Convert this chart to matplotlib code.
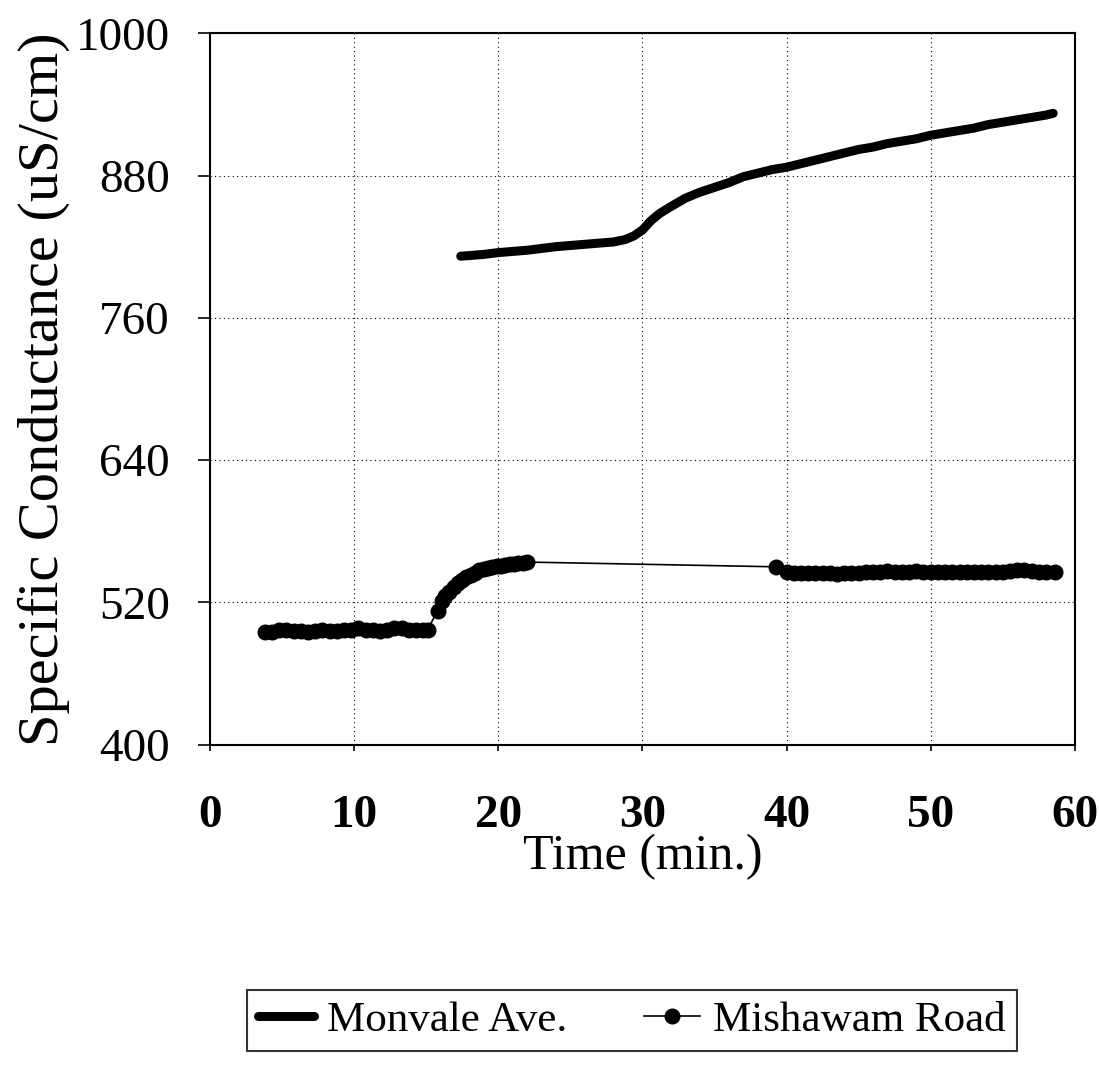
# Specific conductance at two stations

import matplotlib
matplotlib.use("Agg")
import matplotlib.pyplot as plt

# -----------------------------
# DATA
# -----------------------------

monvale_time = [17.4, 18.0, 19.0, 20.0, 21.0, 22.0, 23.0, 24.0, 25.0, 26.0,
                27.0, 28.0, 28.8, 29.4, 30.0, 30.6, 31.2, 32.0, 33.0, 34.0,
                35.0, 36.0, 37.0, 38.0, 39.0, 40.0, 41.0, 42.0, 43.0, 44.0,
                45.0, 46.0, 47.0, 48.0, 49.0, 50.0, 51.0, 52.0, 53.0, 54.0,
                55.0, 56.0, 57.0, 58.0, 58.5]
monvale_sc = [812, 812.5, 813.5, 815, 816, 817, 818.5, 820, 821, 822,
              823, 824, 826, 829, 834, 842, 848, 854, 861, 866,
              870, 874, 879, 882, 885, 887, 890, 893, 896, 899,
              902, 904, 907, 909, 911, 914, 916, 918, 920, 923,
              925, 927, 929, 931, 932.5]

mishawam_time = [3.8, 4.3, 4.8, 5.3, 5.8, 6.3, 6.8, 7.3, 7.8, 8.3,
                 8.8, 9.3, 9.8, 10.3, 10.8, 11.3, 11.8, 12.3, 12.8, 13.3,
                 13.8, 14.3, 14.8, 15.1,
                 15.8, 16.1, 16.3, 16.6, 16.9, 17.2, 17.5, 17.8, 18.1, 18.4,
                 18.7, 19.0, 19.3, 19.6, 19.9, 20.2, 20.5, 20.8, 21.1, 21.4,
                 21.7, 22.0,
                 39.3,
                 40.0, 40.5, 41.0, 41.5, 42.0, 42.5, 43.0, 43.5, 44.0, 44.5,
                 45.0, 45.5, 46.0, 46.5, 47.0, 47.5, 48.0, 48.5, 49.0, 49.5,
                 50.0, 50.5, 51.0, 51.5, 52.0, 52.5, 53.0, 53.5, 54.0, 54.5,
                 55.0, 55.5, 56.0, 56.5, 57.0, 57.5, 58.0, 58.6]
mishawam_sc = [495, 495, 497, 497, 496, 496, 495, 496, 497, 496,
               496, 497, 497, 498, 497, 497, 496, 497, 498, 498,
               497, 497, 497, 497,
               513, 521, 525, 529, 533, 536, 539, 541, 543, 545,
               547, 548, 549, 550, 550.5, 551, 551.5, 552, 552.5, 553,
               553, 554,
               550,
               545.5, 545, 545, 544.5, 545, 545, 544.5, 544, 544.5, 545,
               545, 545.5, 546, 546, 546.5, 546, 546, 546, 546.5, 546,
               546, 545.5, 546, 546, 546, 546, 545.5, 545.5, 546, 546,
               546, 546.5, 547, 547.5, 546.5, 546, 545.5, 545.5]

x_ticks = [0, 10, 20, 30, 40, 50, 60]
y_ticks = [400, 520, 640, 760, 880, 1000]

# -----------------------------
# PLOT
# -----------------------------

plt.rcParams["font.family"] = ["Liberation Serif", "DejaVu Serif"]

fig = plt.figure(figsize=(10.99, 10.73), dpi=100)
ax = fig.add_axes([0.191, 0.306, 0.787, 0.663])

ax.plot(monvale_time, monvale_sc, color="black", linewidth=6.5,
        solid_capstyle="round", label="Monvale Ave.")
ax.plot(mishawam_time, mishawam_sc, color="black", linewidth=1.2,
        marker="o", markersize=10.5, markerfacecolor="black",
        markeredgecolor="black", label="Mishawam Road")

ax.set_xlim(0, 60)
ax.set_ylim(400, 1000)
ax.set_xticks(x_ticks)
ax.set_yticks(y_ticks)
ax.set_xticklabels([str(t) for t in x_ticks], fontsize=34, fontweight="bold")
ax.set_yticklabels([str(t) for t in y_ticks], fontsize=34)

ax.tick_params(axis="y", direction="out", length=9, width=1.2, pad=20)
ax.tick_params(axis="x", direction="out", length=4, width=1.2, pad=32)

ax.grid(True, color="black", linestyle=(0, (1, 3)), linewidth=0.8)

for side in ax.spines.values():
    side.set_linewidth(1.5)

ax.set_xlabel("Time (min.)", fontsize=36, labelpad=-2)
ax.set_ylabel("Specific Conductance (uS/cm)", fontsize=42, labelpad=4)

leg = fig.legend(loc="center", bbox_to_anchor=(0.575, 0.049), ncol=2,
                 fontsize=31, frameon=True, fancybox=False,
                 handlelength=1.3, handletextpad=0.3, columnspacing=1.8,
                 borderpad=0.25)
leg.get_frame().set_edgecolor("black")
leg.get_frame().set_linewidth(1.5)

fig.savefig("out.png", dpi=100)
